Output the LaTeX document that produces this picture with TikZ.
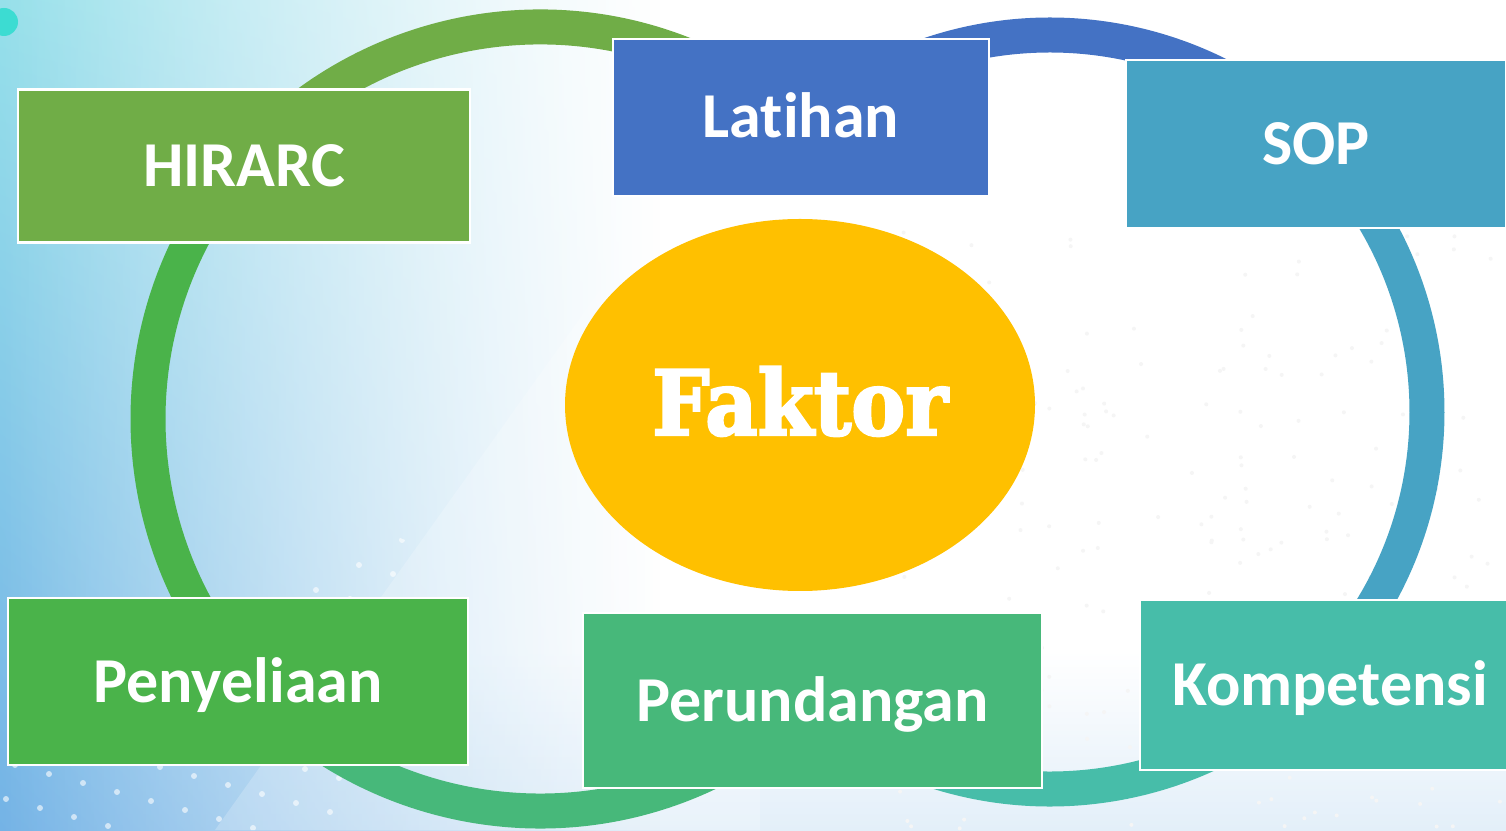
\documentclass[tikz,border=0pt]{standalone}
\usepackage{fontspec}
\setmainfont{Carlito}[Ligatures=NoCommon]
\newfontfamily\slabfont{DejaVu Serif}[FakeStretch=0.9, FakeBold=2.5]
\usetikzlibrary{shapes.geometric, shadings, fadings}

\definecolor{hirarcgreen}{HTML}{70AD47}
\definecolor{latihanblue}{HTML}{4472C4}
\definecolor{sopblue}{HTML}{47A3C4}
\definecolor{penyeliaangreen}{HTML}{4AB34A}
\definecolor{perundangangreen}{HTML}{47B87A}
\definecolor{kompetensiteal}{HTML}{47BDA9}
\definecolor{faktorgold}{HTML}{FFC000}
\definecolor{bgcyan}{HTML}{96E0EA}
\definecolor{bgblue}{HTML}{74B3E6}
\definecolor{bgmid}{HTML}{C6E8F4}
\definecolor{bgpale}{HTML}{E3EFF9}
\definecolor{dotcyan}{HTML}{3CDCD2}

\tikzfading[name=fadeout, left color=transparent!0, right color=transparent!100]

\tikzset{
  box/.style={rectangle, draw=white, line width=2.5pt, text=white, inner sep=0pt,
    font=\bfseries\fontsize{64}{64}\selectfont, text height=41pt, text depth=0pt},
  ring/.style={line width=35pt},
}

\begin{document}
\begin{tikzpicture}[x=1pt, y=1pt]
  \useasboundingbox (0,0) rectangle (1506,830);

  % backdrop
  \fill[white] (0,0) rectangle (1506,830);
  \shade[top color=white, bottom color=bgpale] (0,0) rectangle (1506,180);
  \shade[upper left=bgcyan, lower left=bgblue, upper right=bgmid, lower right=bgblue!60,
    path fading=fadeout] (0,0) rectangle (660,830);
  \fill[white, opacity=0.2] (215,0) -- (600,540) -- (760,540) -- (760,0) -- cycle;
  \fill[dotcyan] (4,808) circle[radius=14];

  \begin{scope}
    \clip (0,0) -- (330,0) -- (430,280) -- (230,360) -- (0,160) -- cycle;
    \foreach \i in {0,...,20}
      \foreach \j in {0,...,18}
        \fill[white, opacity=0.6] (-200+34*\i+43*\j, -60-9*\i+25*\j) circle[radius=3];
  \end{scope}

  \pgfmathsetseed{11}
  \foreach \k in {1,...,220} {
    \pgfmathsetmacro\dotx{900+606*rnd}
    \pgfmathsetmacro\doty{600*rnd}
    \fill[black!4] (\dotx,\doty) circle[radius=2];
  }

  % left ring
  \draw[ring, hirarcgreen] (540,411) ++(150:392) arc[start angle=150, end angle=60, radius=392];
  \draw[ring, penyeliaangreen] (540,411) ++(215:392) arc[start angle=215, end angle=150, radius=392];
  \draw[ring, perundangangreen] (540,411) ++(305:392) arc[start angle=305, end angle=215, radius=392];

  % right ring
  \draw[ring, latihanblue] (1050,418) ++(120:377) arc[start angle=120, end angle=45, radius=377];
  \draw[ring, sopblue] (1050,418) ++(45:377) arc[start angle=45, end angle=-40, radius=377];
  \draw[ring, kompetensiteal] (1050,418) ++(-40:377) arc[start angle=-40, end angle=-120, radius=377];

  % factor boxes
  \node[box, fill=hirarcgreen, minimum width=452pt, minimum height=153pt] (hirarc) at (244,664) {HIRARC};
  \node[box, fill=latihanblue, minimum width=376pt, minimum height=157pt] (latihan) at (801,712.5) {Latihan};
  \node[box, fill=sopblue, minimum width=380pt, minimum height=168pt] (sop) at (1316,686) {SOP};
  \node[box, fill=penyeliaangreen, minimum width=460pt, minimum height=167pt] (penyeliaan) at (238,148.5) {Penyeliaan};
  \node[box, fill=perundangangreen, minimum width=459pt, minimum height=175pt] (perundangan) at (812.5,129.5) {Perundangan};
  \node[box, fill=kompetensiteal, minimum width=380pt, minimum height=170pt] (kompetensi) at (1330,145) {Kompetensi};

  \node[ellipse, fill=faktorgold, text=white, inner sep=0pt, minimum width=470pt, minimum height=372pt,
    font=\slabfont\bfseries\fontsize{90}{90}\selectfont, text height=66pt, text depth=6pt] (faktor) at (800,425) {Faktor};
\end{tikzpicture}
\end{document}
